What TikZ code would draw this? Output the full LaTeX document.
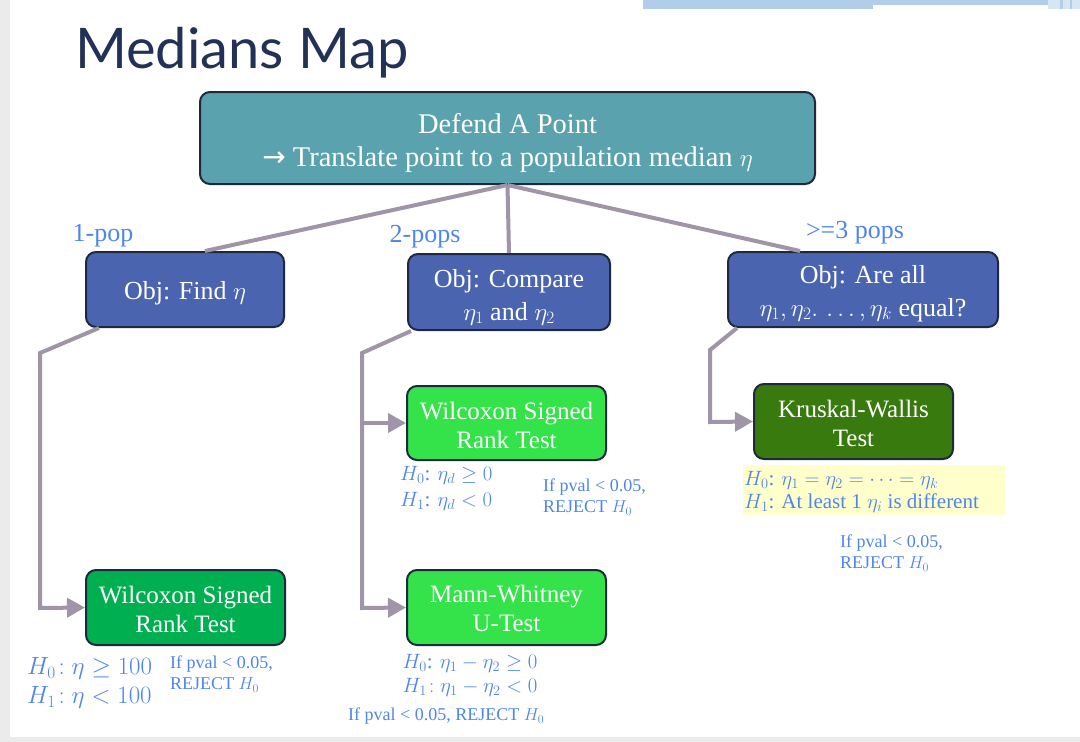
\documentclass[tikz,border=0pt]{standalone}
\usepackage{fontspec}
\setmainfont{Liberation Serif}
\newfontfamily\titlefont{Lato}
\newfontfamily\symfont{DejaVu Sans}
\usetikzlibrary{arrows.meta,calc}

\definecolor{titleink}{RGB}{34,50,86}
\definecolor{boxedge}{RGB}{30,40,62}
\definecolor{tealfill}{RGB}{90,162,173}
\definecolor{objfill}{RGB}{75,100,175}
\definecolor{limefill}{RGB}{52,226,74}
\definecolor{greenfill}{RGB}{0,176,80}
\definecolor{darkgreenfill}{RGB}{56,122,14}
\definecolor{linkgray}{RGB}{160,148,168}
\definecolor{noteblue}{RGB}{78,134,235}
\definecolor{hilite}{RGB}{255,255,204}
\definecolor{edgegray}{RGB}{235,235,235}
\definecolor{barblue}{RGB}{176,206,232}
\definecolor{barlight}{RGB}{214,230,244}

\begin{document}
\begin{tikzpicture}[x=1pt,y=-1pt,
  box/.style={draw=boxedge, line width=2pt, rounded corners=10pt, inner sep=0pt},
  boxtext/.style={text=white, align=center, inner sep=0pt},
  toptext/.style={boxtext, font=\fontsize{28.5}{33}\selectfont},
  objtext/.style={boxtext, font=\fontsize{26}{33}\selectfont},
  testtext/.style={boxtext, font=\fontsize{25}{29}\selectfont},
  link/.style={draw=linkgray, line width=4pt},
  arrowlink/.style={link, -{Triangle[length=18pt,width=19pt]}},
  branchlabel/.style={text=noteblue, inner sep=0pt, font=\fontsize{26}{30}\selectfont},
  note/.style={text=noteblue, inner sep=0pt, align=left},
  smallnote/.style={note, font=\fontsize{18}{21}\selectfont},
  hyp/.style={note, font=\fontsize{21}{26}\selectfont}
]
\useasboundingbox (0,0) rectangle (1080,742);
\fill[white] (0,0) rectangle (1080,742);

% slide frame and header bars
\fill[edgegray] (0,0) rectangle (10,742);
\fill[edgegray] (0,737) rectangle (1080,742);
\fill[barblue] (643,0) rectangle (873,9);
\fill[barblue] (873,0) rectangle (1048,5);
\fill[barlight] (1048,0) rectangle (1080,9);
\fill[barblue] (1060,0) rectangle (1063,9);
\fill[barblue] (1070,0) rectangle (1072,9);

% title
\node[anchor=base west, inner sep=0pt, text=titleink,
  font=\titlefont\fontsize{56}{64}\selectfont] (title) at (75,68) {Medians Map};

% boxes
\node[box, fill=tealfill, minimum width=615pt, minimum height=92pt] (top) at (507.5,138) {};
\node[box, fill=objfill, minimum width=198pt, minimum height=75pt] (obj1) at (185,289.5) {};
\node[box, fill=objfill, minimum width=202pt, minimum height=76pt] (obj2) at (509,292) {};
\node[box, fill=objfill, minimum width=270pt, minimum height=75pt] (obj3) at (863,289.5) {};
\node[box, fill=limefill, minimum width=199pt, minimum height=74pt] (wsr2) at (506.5,423) {};
\node[box, fill=darkgreenfill, minimum width=199pt, minimum height=75pt] (kw) at (853.5,421.5) {};
\node[box, fill=greenfill, minimum width=199pt, minimum height=75pt] (wsr1) at (185.5,607.5) {};
\node[box, fill=limefill, minimum width=199pt, minimum height=75pt] (mw) at (506.5,607.5) {};

% box texts
\node[toptext] (topt) at ($(top)+(0,5)$)
  {Defend A Point\\{\symfont\fontsize{28}{33}\selectfont →} Translate point to a population median $\eta$};
\node[objtext] (obj1t) at ($(obj1)+(0,4)$) {Obj: Find $\eta$};
\node[objtext] (obj2t) at ($(obj2)+(0,5)$) {Obj: Compare\\$\eta_1$ and $\eta_2$};
\node[objtext] (obj3t) at ($(obj3)+(0,4)$) {Obj: Are all\\$\eta_1,\eta_2.\,\dots,\eta_k$ equal?};
\node[testtext] (wsr2t) at ($(wsr2)+(0,2)$) {Wilcoxon Signed\\Rank Test};
\node[testtext] (kwt) at ($(kw)+(0,1.5)$) {Kruskal-Wallis\\Test};
\node[testtext] (wsr1t) at ($(wsr1)+(0,1.5)$) {Wilcoxon Signed\\Rank Test};
\node[testtext] (mwt) at ($(mw)+(0,0.5)$) {Mann-Whitney\\U-Test};

% branch labels
\node[branchlabel] (lab1) at (103,236) {1-pop};
\node[branchlabel] (lab2) at (425,237) {2-pops};
\node[branchlabel] (lab3) at (855,233) {>=3 pops};

% branches from the top box
\draw[link] (top.south) -- ($(obj1.north)+(20,0)$);
\draw[link] (top.south) -- (obj2.north);
\draw[link] (top.south) -- ($(obj3.north)+(-63,0)$);

% elbow connectors down to the tests
\coordinate (e1a) at (40,353);
\coordinate (e1b) at (40,608);
\draw[arrowlink] ($(obj1.south west)+(14,0)$) -- (e1a) -- (e1b) -- (wsr1.west);

\coordinate (e2a) at (362,353);
\coordinate (e2b) at (362,423);
\coordinate (e2c) at (362,608);
\draw[arrowlink] ($(obj2.south west)+(4,0)$) -- (e2a) -- (e2c) -- (mw.west);
\draw[arrowlink] (e2b) -- (wsr2.west);

\coordinate (e3a) at (710,350);
\coordinate (e3b) at (710,422);
\draw[arrowlink] ($(obj3.south west)+(10,0)$) -- (e3a) -- (e3b) -- (kw.west);

% hypotheses and decision rules
\node[note, anchor=west, font=\fontsize{25}{29}\selectfont] (hyp1) at (27,683)
  {$H_0\!:\eta \ge 100$\\$H_1\!:\eta < 100$};
\node[smallnote, anchor=west] (rule1) at (170,674)
  {If pval < 0.05,\\REJECT $H_0$};

\node[hyp, anchor=west] (hyp2) at (400,488)
  {$H_0$: $\eta_d \ge 0$\\$H_1$: $\eta_d < 0$};
\node[smallnote, anchor=west] (rule2) at (543,497)
  {If pval < 0.05,\\REJECT $H_0$};

\fill[hilite] (743,465) rectangle (1005,515);
\node[hyp, anchor=west, font=\fontsize{21}{23}\selectfont] (hyp3) at (744,492)
  {$H_0$: $\eta_1 = \eta_2 = \cdots = \eta_k$\\$H_1$: At least 1 $\eta_i$ is different};
\node[smallnote, anchor=west] (rule3) at (840,553)
  {If pval < 0.05,\\REJECT $H_0$};

\node[hyp, align=center, font=\fontsize{21}{24}\selectfont] (hyp4) at (470,675)
  {$H_0$: $\eta_1 - \eta_2 \ge 0$\\$H_1\!:\eta_1 - \eta_2 < 0$};
\node[smallnote, anchor=west] (rule4) at (348,716)
  {If pval < 0.05, REJECT $H_0$};
\end{tikzpicture}
\end{document}
